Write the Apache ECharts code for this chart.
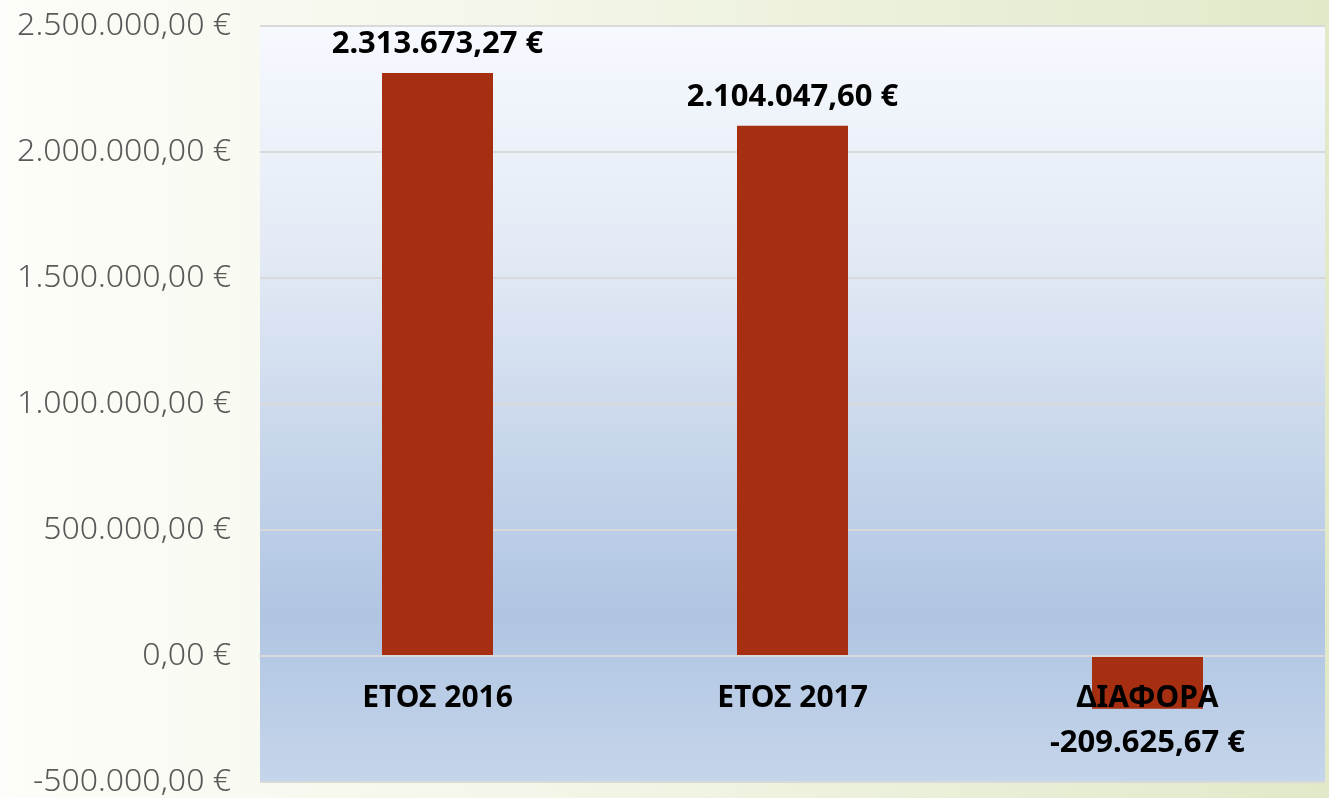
<!DOCTYPE html>
<html>
<head>
<meta charset="utf-8">
<script src="https://cdn.jsdelivr.net/npm/echarts@6/dist/echarts.min.js"></script>
<style>
html,body{margin:0;padding:0;}
#chart{width:1329px;height:798px;}
</style>
</head>
<body>
<div id="chart"></div>
<script>
var categories = ['ΕΤΟΣ 2016', 'ΕΤΟΣ 2017', 'ΔΙΑΦΟΡΑ'];
var values = [2313673.27, 2104047.60, -209625.67];
var yTicks = { min: -500000, max: 2500000, interval: 500000 };

function fmtEuro(v) {
  var neg = v < 0;
  var a = Math.abs(v);
  var s = a.toFixed(2);
  var parts = s.split('.');
  var ip = parts[0].replace(/\B(?=(\d{3})+(?!\d))/g, '.');
  return (neg ? '-' : '') + ip + ',' + parts[1] + ' €';
}

var gridTop = 26, gridBottom = 16, chartH = 798;
var plotH = chartH - gridTop - gridBottom;
var zeroFromBottom = plotH * (0 - yTicks.min) / (yTicks.max - yTicks.min);

var chart = echarts.init(document.getElementById('chart'));
var seriesData = values.map(function (v) {
  if (v < 0) {
    return { value: v, label: { position: 'bottom', distance: 19 } };
  }
  return { value: v };
});

chart.setOption({
  backgroundColor: {
    type: 'linear', x: 0, y: 0, x2: 1, y2: 0,
    colorStops: [
      { offset: 0, color: '#fdfdf9' },
      { offset: 0.45, color: '#f2f5e6' },
      { offset: 1, color: '#e1e9c9' }
    ]
  },
  animation: false,
  grid: {
    left: 260, right: 4, top: gridTop, bottom: gridBottom,
    containLabel: false,
    outerBoundsMode: 'none',
    show: true,
    borderWidth: 0,
    backgroundColor: {
      type: 'linear', x: 0, y: 0, x2: 0, y2: 1,
      colorStops: [
        { offset: 0, color: '#f6f9fe' },
        { offset: 0.3, color: '#e3eaf5' },
        { offset: 0.78, color: '#b0c5e2' },
        { offset: 1, color: '#c5d5ea' }
      ]
    }
  },
  xAxis: {
    type: 'category',
    data: categories,
    z: 10,
    offset: -zeroFromBottom,
    axisLine: { show: true, onZero: false, lineStyle: { color: '#d9d9d9', width: 2 } },
    axisTick: { show: false },
    axisLabel: {
      margin: 27,
      color: '#000000',
      fontFamily: 'Noto Sans',
      fontWeight: 'bold',
      fontSize: 30
    }
  },
  yAxis: {
    type: 'value',
    min: yTicks.min,
    max: yTicks.max,
    interval: yTicks.interval,
    axisLine: { show: false },
    axisTick: { show: false },
    splitLine: { show: true, lineStyle: { color: '#d9d9d9', width: 2 } },
    axisLabel: {
      margin: 29,
      color: '#595959',
      fontFamily: 'Noto Sans',
      fontWeight: 300,
      fontSize: 32,
      formatter: function (v) { return fmtEuro(v); }
    }
  },
  series: [{
    type: 'bar',
    data: seriesData,
    barWidth: 111,
    itemStyle: { color: '#a52f10' },
    label: {
      show: true,
      position: 'top',
      distance: 13,
      color: '#000000',
      fontFamily: 'Noto Sans',
      fontWeight: 'bold',
      fontSize: 31,
      formatter: function (p) { return fmtEuro(p.value); }
    }
  }]
});
</script>
</body>
</html>
